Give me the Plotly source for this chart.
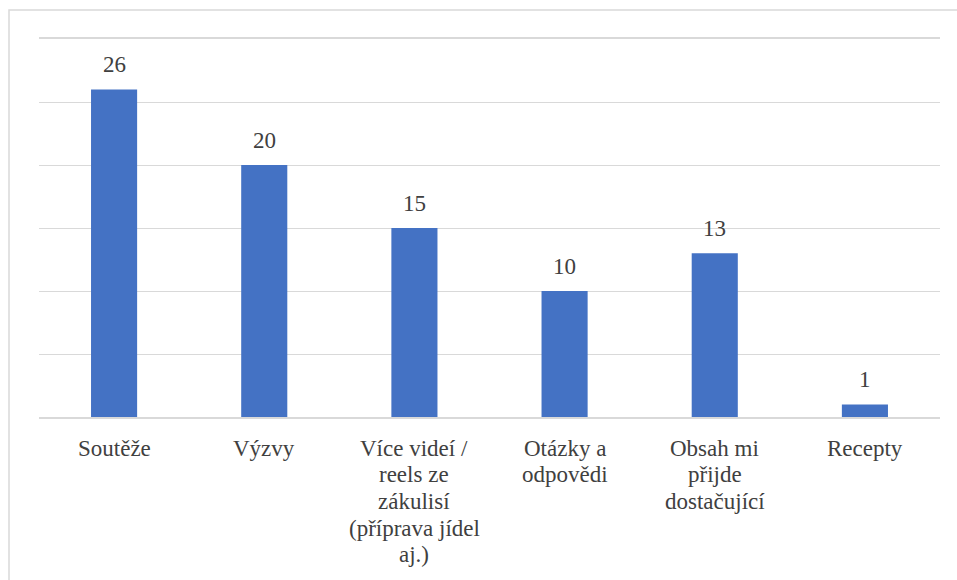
import plotly.graph_objects as go

categories = ["Soutěže", "Výzvy", "Více videí /<br>reels ze<br>zákulisí<br>(příprava jídel<br>aj.)",
              "Otázky a<br>odpovědi", "Obsah mi<br>přijde<br>dostačující", "Recepty"]
values = [26, 20, 15, 10, 13, 1]
xkeys = [f"c{i}" for i in range(len(categories))]

FONT = "'Liberation Serif', 'Times New Roman', Times, 'DejaVu Serif', serif"
TXT = "#404040"

fig = go.Figure(go.Bar(x=xkeys, y=values, marker_color="#4472C4", marker_line_width=0,
                       hoverinfo="skip"))

ann = []
for k, v in zip(xkeys, values):
    ann.append(dict(x=k, y=v, xref="x", yref="y", text=str(v), showarrow=False,
                    yanchor="middle", yshift=25, font=dict(family=FONT, size=23, color=TXT)))
for k, lab in zip(xkeys, categories):
    for i, line in enumerate(lab.split("<br>")):
        ann.append(dict(x=k, y=0, xref="x", yref="y", text=line, showarrow=False,
                        yanchor="middle", yshift=-(31 + i * 26.7),
                        font=dict(family=FONT, size=23, color=TXT)))

fig.update_layout(
    width=957, height=580,
    margin=dict(l=39, r=17, t=39, b=163),
    paper_bgcolor="white", plot_bgcolor="white",
    font=dict(family=FONT, color=TXT),
    bargap=0.693,
    showlegend=False,
    annotations=ann,
    shapes=[dict(type="rect", xref="paper", yref="paper", x0=-0.0333, x1=1.2, y0=-0.6, y1=1.0767,
                 line=dict(color="#d9d9d9", width=1.5), layer="below")],
    xaxis=dict(showticklabels=False, showgrid=False, zeroline=False, showline=True, mirror=True,
               linecolor="#d9d9d9", linewidth=1.5, ticks=""),
    yaxis=dict(range=[0, 30], dtick=5, showticklabels=False, showgrid=True,
               gridcolor="#d9d9d9", gridwidth=1.3, zeroline=False, ticks=""),
)

fig.write_html("out.html", config={"displayModeBar": False})
with open("out.html", encoding="utf-8") as f:
    html = f.read()
html = html.replace("<body>", '<body style="margin:0;overflow:hidden">', 1)
with open("out.html", "w", encoding="utf-8") as f:
    f.write(html)
